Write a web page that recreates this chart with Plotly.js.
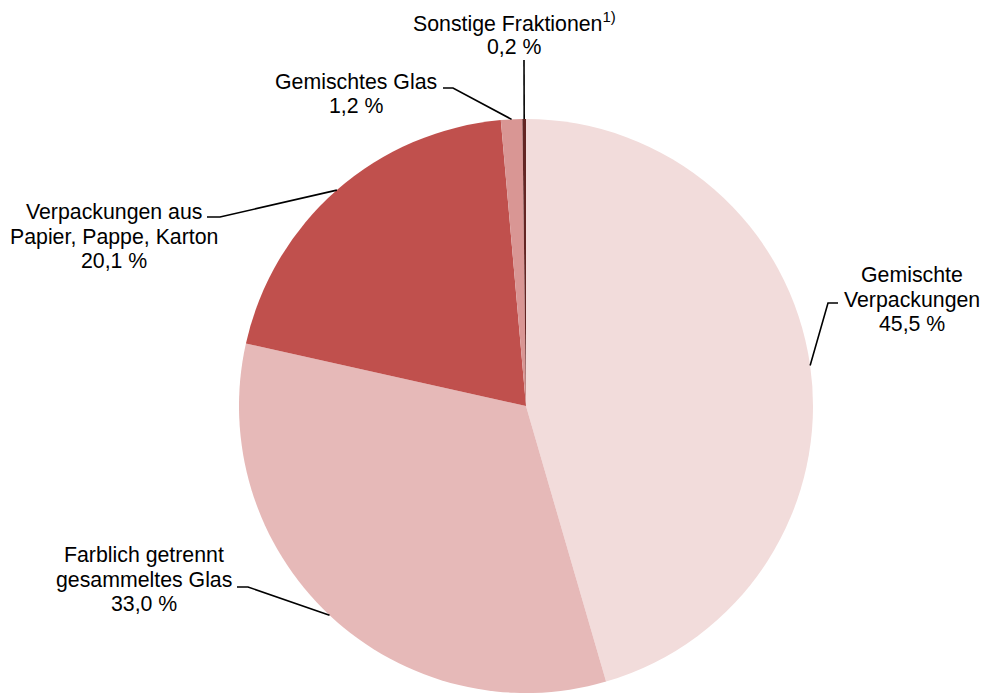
<!DOCTYPE html>
<html>
<head>
<meta charset="utf-8">
<script src="https://cdn.plot.ly/plotly-3.0.1.min.js"></script>
<style>html,body{margin:0;padding:0;background:#fff;}#chart{width:986px;height:693px;}</style>
</head>
<body>
<div id="chart"></div>
<script>
// Data
var categories = ["Gemischte<br>Verpackungen", "Farblich getrennt<br>gesammeltes Glas", "Verpackungen aus<br>Papier, Pappe, Karton", "Gemischtes Glas", "Sonstige Fraktionen<sup>1)</sup>"];
var values = [45.5, 33.0, 20.1, 1.2, 0.2];
var valueLabels = ["45,5 %", "33,0 %", "20,1 %", "1,2 %", "0,2 %"];
var colors = ["#F2DCDB", "#E6B9B8", "#C0504D", "#D99694", "#632523"];

// Layout (pixels)
var W = 986, H = 693;
var cx = 526, cy = 406, R = 287;
var lineGap = 24.5;
// label centre x and first-line y (pixels)
var labelPos = [[912, 275], [144, 555], [114, 212], [356, 82], [514, 22]];
var elbows = [
  [[828, 303], [838, 303]],
  [[248, 587], [237, 587]],
  [[220, 217], [207, 217]],
  [[453, 88], [443, 88]],
  [[524, 60]]
];

var total = values.reduce(function(a, b){ return a + b; }, 0);
var shapes = [], annotations = [];
var cum = 0;
function px2x(p){ return p / W; }
function py2y(p){ return 1 - p / H; }
for (var i = 0; i < values.length; i++) {
  var th = 2 * Math.PI * (cum + values[i] / 2) / total;
  cum += values[i];
  var ex = cx + R * Math.sin(th), ey = cy - R * Math.cos(th);
  var path = "M" + px2x(ex) + "," + py2y(ey);
  elbows[i].forEach(function(p){ path += " L" + px2x(p[0]) + "," + py2y(p[1]); });
  shapes.push({type: "path", xref: "paper", yref: "paper", path: path, line: {color: "#000", width: 1.6}});
  var lines = categories[i].split("<br>").concat([valueLabels[i]]);
  lines.forEach(function(t, k){
    annotations.push({
      xref: "paper", yref: "paper", x: px2x(labelPos[i][0]), y: py2y(labelPos[i][1] + k * lineGap),
      xanchor: "center", yanchor: "middle", showarrow: false, align: "center",
      text: t,
      font: {family: "Liberation Sans, Arial, sans-serif", size: 21.3, color: "#000"}
    });
  });
}

var trace = {
  type: "pie",
  values: values,
  labels: categories.map(function(c){ return c.replace(/<br>/g, " ").replace(/<sup>.*<\/sup>/, ""); }),
  sort: false,
  direction: "clockwise",
  rotation: 0,
  textinfo: "none",
  hoverinfo: "label+percent",
  marker: {colors: colors, line: {width: 0}},
  domain: {x: [(cx - R) / W, (cx + R) / W], y: [(H - cy - R) / H, (H - cy + R) / H]}
};

var layout = {
  width: W, height: H,
  margin: {l: 0, r: 0, t: 0, b: 0},
  showlegend: false,
  paper_bgcolor: "#fff",
  shapes: shapes,
  annotations: annotations
};

Plotly.newPlot("chart", [trace], layout, {displayModeBar: false, staticPlot: true});
</script>
</body>
</html>
